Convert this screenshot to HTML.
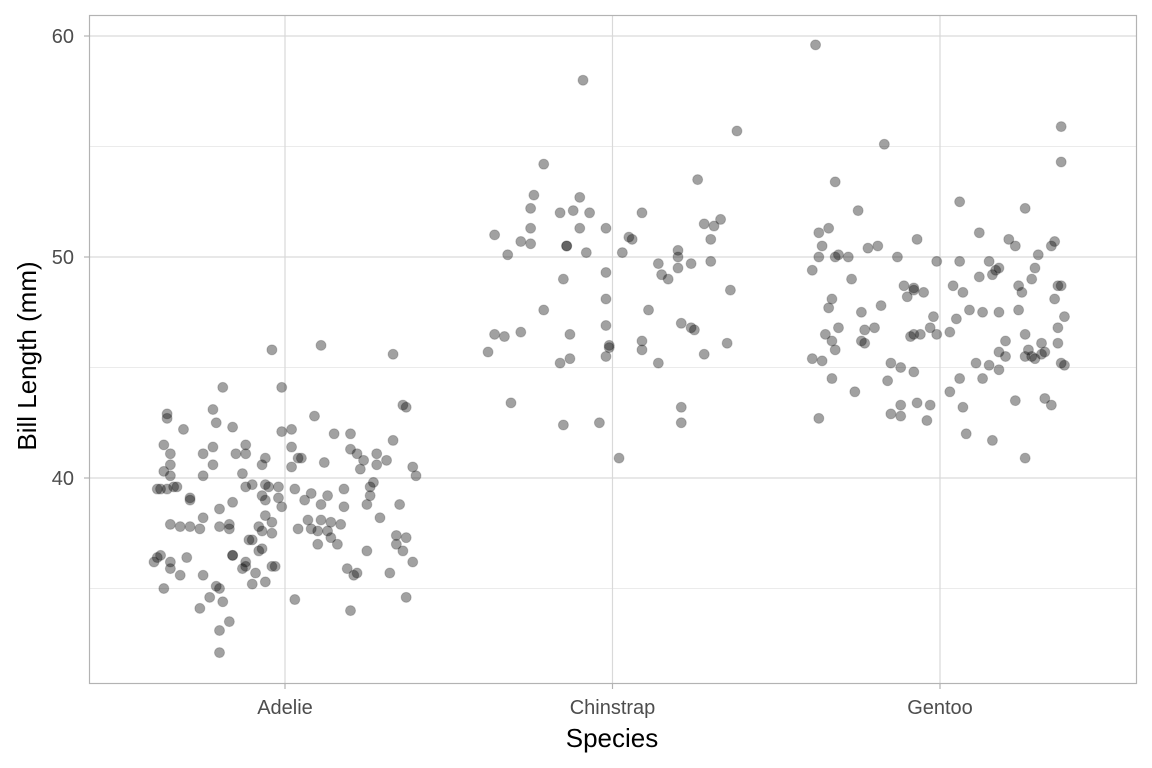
<!DOCTYPE html>
<html><head><meta charset="utf-8"><style>
html,body{margin:0;padding:0;background:#fff;}
svg{display:block;font-family:"Liberation Sans",Arial,sans-serif;}
</style></head><body>
<svg id="chart" width="1152" height="768">
<rect width="1152" height="768" fill="#fff"/>
<g id="grid"></g>
<g id="pts"></g>
<rect x="89.5" y="15.5" width="1047" height="668" fill="none" stroke="#b3b3b3" stroke-width="1.2"/>
<g id="axes"></g>
<text x="612" y="747" font-size="26" text-anchor="middle" fill="#000">Species</text>
<text transform="translate(36,356) rotate(-90)" font-size="26" text-anchor="middle" fill="#000">Bill Length (mm)</text>
</svg>
<script>
const categories=["Adelie","Chinstrap","Gentoo"];
const yTicks=[40,50,60];
const yMinor=[35,45,55];
const adelieJitter=[-0.04,0.11,0.33,-0.19,-0.01,-0.36,-0.36,-0.31,-0.22,-0.21,-0.16,0.09,0.02,-0.01,0.15,0.2,0.36,0.37,0.33,-0.35,-0.37,-0.25,-0.22,-0.12,-0.12,-0.15,-0.06,-0.07,0.05,0.04,0.02,0.12,0.2,0.22,0.24,0.28,0.31,0.28,0.39,0.4,0.02,-0.22,-0.37,-0.35,-0.34,-0.35,-0.13,-0.25,0.23,-0.39,-0.38,-0.36,-0.33,-0.29,-0.29,-0.16,-0.12,-0.1,-0.05,-0.06,-0.02,0.03,0.08,0.13,0.18,0.27,0.26,0.26,-0.07,-0.06,-0.02,0.06,0.11,0.25,0.18,0.35,-0.2,-0.25,-0.06,-0.04,-0.01,0.07,0.11,0.14,0.08,0.1,0.17,0.29,-0.35,-0.32,-0.29,-0.26,-0.17,-0.17,-0.2,-0.08,-0.07,-0.04,0.04,0.13,0.14,0.16,0.1,-0.11,-0.1,-0.07,-0.08,-0.16,-0.16,0.25,0.34,0.37,0.34,0.36,0.39,-0.4,-0.39,-0.38,-0.35,-0.3,-0.35,-0.32,-0.37,-0.25,-0.12,-0.12,-0.13,-0.09,-0.04,-0.03,-0.06,-0.1,-0.21,-0.2,0.19,0.22,0.21,0.32,0.37,0.03,-0.26,-0.23,-0.19,0.2,-0.17,-0.2,-0.2];
const adelieBill=[45.8,46.0,45.6,44.1,44.1,42.9,42.7,42.2,43.1,42.5,42.3,42.8,42.2,42.1,42.0,42.0,43.3,43.2,41.7,41.1,41.5,41.1,41.4,41.5,41.1,41.1,40.9,40.6,40.9,40.9,41.4,40.7,41.3,41.1,40.8,41.1,40.8,40.6,40.5,40.1,40.5,40.6,40.3,40.6,39.6,40.1,40.2,40.1,40.4,39.5,39.5,39.5,39.6,39.1,39.0,38.9,39.6,39.7,39.6,39.7,39.6,39.5,39.3,39.2,39.5,39.8,39.6,39.2,39.2,39.0,39.1,39.0,38.8,38.8,38.7,38.8,38.6,38.2,38.3,38.0,38.7,38.1,38.1,38.0,37.7,37.6,37.9,38.2,37.9,37.8,37.8,37.7,37.9,37.7,37.8,37.8,37.6,37.5,37.7,37.6,37.3,37.0,37.0,37.2,37.2,36.8,36.7,36.5,36.5,36.7,37.4,37.3,37.0,36.7,36.2,36.2,36.4,36.5,36.2,36.4,35.9,35.6,35.0,35.6,36.2,36.0,35.9,35.7,36.0,36.0,35.3,35.2,35.1,35.0,35.9,35.7,35.6,35.7,34.6,34.5,34.1,34.6,34.4,34.0,33.5,33.1,32.1];
const chinJitter=[-0.09,0.38,-0.21,0.26,-0.24,-0.1,-0.25,-0.16,-0.12,-0.07,0.09,0.33,0.28,0.31,-0.25,-0.1,-0.02,-0.36,-0.28,-0.25,-0.14,-0.14,0.05,0.06,0.3,-0.32,-0.08,0.03,0.2,0.2,0.3,0.24,0.14,0.2,-0.02,0.15,0.17,-0.15,0.36,-0.02,-0.21,0.11,-0.02,0.21,0.24,0.25,-0.28,-0.36,-0.33,-0.13,0.09,0.35,-0.01,-0.01,-0.38,0.09,0.28,-0.02,-0.13,-0.16,0.14,-0.31,0.21,0.21,-0.15,-0.04,0.02];
const chinBill=[58.0,55.7,54.2,53.5,52.8,52.7,52.2,52.0,52.1,52.0,52.0,51.7,51.5,51.4,51.3,51.3,51.3,51.0,50.7,50.6,50.5,50.5,50.9,50.8,50.8,50.1,50.2,50.2,50.3,50.0,49.8,49.7,49.7,49.5,49.3,49.2,49.0,49.0,48.5,48.1,47.6,47.6,46.9,47.0,46.8,46.7,46.6,46.5,46.4,46.5,46.2,46.1,46.0,45.9,45.7,45.8,45.6,45.5,45.4,45.2,45.2,43.4,43.2,42.5,42.4,42.5,40.9];
const gentJitter=[-0.38,-0.17,0.37,0.37,-0.32,-0.25,0.06,0.26,-0.37,-0.34,0.12,0.21,0.23,0.35,0.34,-0.07,-0.36,-0.22,-0.19,-0.31,-0.32,-0.28,-0.37,-0.13,-0.01,0.06,0.15,0.3,-0.39,-0.27,0.12,0.17,0.16,0.28,0.29,0.18,0.36,0.37,0.24,-0.11,-0.08,-0.08,-0.05,-0.1,0.04,0.07,0.25,0.35,-0.33,-0.34,-0.18,-0.24,0.09,-0.02,0.05,0.13,0.18,0.24,0.38,-0.31,-0.23,-0.2,-0.03,0.03,-0.35,-0.06,-0.01,0.26,0.36,-0.09,-0.08,-0.33,-0.24,-0.23,0.2,0.31,0.36,-0.32,0.18,0.27,0.26,0.32,0.28,0.29,0.31,0.2,-0.39,-0.36,-0.15,0.11,0.15,0.37,0.38,-0.12,-0.08,0.18,-0.33,-0.16,0.06,0.13,-0.26,0.03,0.23,0.32,0.34,-0.12,-0.07,-0.03,0.07,-0.15,-0.12,-0.37,-0.04,0.08,0.16,0.26];
const gentBill=[59.6,55.1,55.9,54.3,53.4,52.1,52.5,52.2,51.1,51.3,51.1,50.8,50.5,50.7,50.5,50.8,50.5,50.4,50.5,50.1,50.0,50.0,50.0,50.0,49.8,49.8,49.8,50.1,49.4,49.0,49.1,49.4,49.2,49.0,49.5,49.5,48.7,48.7,48.7,48.7,48.5,48.6,48.4,48.2,48.7,48.4,48.4,48.1,48.1,47.7,47.8,47.5,47.6,47.3,47.2,47.5,47.5,47.6,47.3,46.8,46.7,46.8,46.8,46.6,46.5,46.5,46.5,46.5,46.8,46.4,46.5,46.2,46.2,46.1,46.2,46.1,46.1,45.8,45.7,45.8,45.5,45.7,45.5,45.4,45.6,45.5,45.4,45.3,45.2,45.2,45.1,45.2,45.1,45.0,44.8,44.9,44.5,44.4,44.5,44.5,43.9,43.9,43.5,43.6,43.3,43.3,43.4,43.3,43.2,42.9,42.8,42.7,42.6,42.0,41.7,40.9];

const NS="http://www.w3.org/2000/svg";
const PL=89,PR=1137,PT=15,PB=684;
function xScale(c){return 285+c*327.5;}
function yScale(v){return 36+(60-v)*22.1;}
function mk(tag,attrs,parent){const e=document.createElementNS(NS,tag);for(const k in attrs)e.setAttribute(k,attrs[k]);parent.appendChild(e);return e;}
const grid=document.getElementById('grid'),axes=document.getElementById('axes'),pts=document.getElementById('pts');
yMinor.forEach(v=>{const l=mk('line',{x1:PL,x2:PR,y1:yScale(v),y2:yScale(v),stroke:'#ebebeb','stroke-width':1},grid);

});
yTicks.forEach(v=>{const y=yScale(v);
const l=mk('line',{x1:PL,x2:PR,y1:y,y2:y,stroke:'#d9d9d9','stroke-width':1.2},grid);


const t=mk('line',{x1:PL-5,x2:PL,y1:y,y2:y,stroke:'#b3b3b3','stroke-width':1.2},axes);


const tx=mk('text',{x:74,y:y+7,'font-size':20,'text-anchor':'end',fill:'#4d4d4d'},axes);tx.textContent=v;

});
categories.forEach((c,i)=>{const x=xScale(i);
const l=mk('line',{x1:x,x2:x,y1:PT,y2:PB,stroke:'#d9d9d9','stroke-width':1.2},grid);


const t=mk('line',{x1:x,x2:x,y1:PB,y2:PB+5,stroke:'#b3b3b3','stroke-width':1.2},axes);


const tx=mk('text',{x:x,y:714,'font-size':20,'text-anchor':'middle',fill:'#4d4d4d'},axes);tx.textContent=c;

});
const series=[[adelieJitter,adelieBill],[chinJitter,chinBill],[gentJitter,gentBill]];
series.forEach((s,i)=>{s[1].forEach((v,j)=>{
const c=mk('circle',{cx:xScale(i+s[0][j]),cy:yScale(v),r:5,fill:'rgba(0,0,0,0.37)',stroke:'rgba(0,0,0,0.18)','stroke-width':1},pts);

});});
</script>
</body></html>
